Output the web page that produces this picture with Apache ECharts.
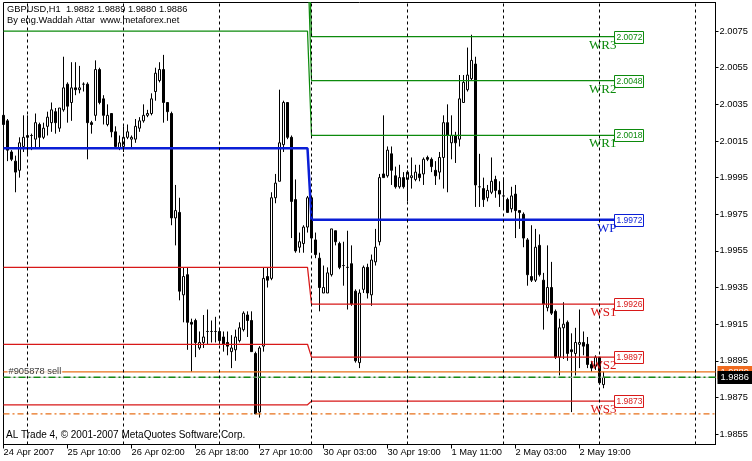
<!DOCTYPE html>
<html>
<head>
<meta charset="utf-8">
<script src="https://cdn.jsdelivr.net/npm/echarts@6/dist/echarts.min.js"></script>
<style>html,body{margin:0;padding:0;background:#fff;}#chart{width:752px;height:461px;}</style>
</head>
<body>
<div id="chart"></div>
<script>
// ---- data ----
const tradingDays   = ['24 Apr','25 Apr','26 Apr','27 Apr','30 Apr','1 May','2 May','3 May','4 May'];
const dayFirstHour  = [18, 0, 0, 0, 0, 0, 0, 0, 0];
const dayLastHour   = [23, 23, 23, 22, 23, 23, 23, 23, 5];
const xTickLabels   = ['24 Apr 2007','25 Apr 10:00','26 Apr 02:00','26 Apr 18:00','27 Apr 10:00','30 Apr 03:00','30 Apr 19:00','1 May 11:00','2 May 03:00','2 May 19:00'];
const yTicks = [1.9855,1.9875,1.9895,1.9915,1.9935,1.9955,1.9975,1.9995,2.0015,2.0035,2.0055,2.0075];
// [open, close, low, high]
const ohlc = [
[2.0029,2.0024,2.0017,2.0030],[2.0026,2.0010,2.0004,2.0027],[2.0009,2.0005,2.0004,2.0010],[2.0004,1.9998,1.9987,2.0007],
[1.9999,2.0014,1.9995,2.0017],[2.0012,2.0017,2.0009,2.0029],[2.0017,2.0018,2.0007,2.0029],[2.0018,2.0018,2.0010,2.0019],
[2.0016,2.0025,2.0011,2.0030],[2.0024,2.0017,2.0011,2.0025],[2.0017,2.0022,2.0016,2.0025],[2.0023,2.0028,2.0018,2.0031],
[2.0025,2.0032,2.0020,2.0036],[2.0031,2.0025,2.0019,2.0033],[2.0022,2.0033,2.0020,2.0033],[2.0032,2.0044,2.0031,2.0061],
[2.0046,2.0034,2.0025,2.0047],[2.0036,2.0044,2.0026,2.0058],[2.0044,2.0043,2.0040,2.0058],[2.0043,2.0044,2.0041,2.0056],
[2.0046,2.0046,2.0042,2.0047],[2.0046,2.0025,2.0005,2.0047],[2.0025,2.0024,2.0019,2.0026],[2.0029,2.0054,2.0026,2.0059],
[2.0054,2.0036,2.0035,2.0055],[2.0038,2.0029,2.0024,2.0040],[2.0024,2.0029,2.0023,2.0035],[2.0030,2.0020,2.0017,2.0030],
[2.0020,2.0012,2.0011,2.0023],[2.0011,2.0014,2.0010,2.0018],[2.0012,2.0017,2.0009,2.0023],[2.0017,2.0020,2.0016,2.0024],
[2.0016,2.0017,2.0011,2.0018],[2.0016,2.0023,2.0014,2.0027],[2.0022,2.0026,2.0020,2.0028],[2.0026,2.0029,2.0025,2.0035],
[2.0029,2.0030,2.0028,2.0032],[2.0030,2.0038,2.0029,2.0041],[2.0042,2.0052,2.0037,2.0055],[2.0048,2.0054,2.0047,2.0058],
[2.0054,2.0036,2.0025,2.0062],[2.0036,2.0031,2.0026,2.0036],[2.0030,1.9973,1.9969,2.0031],[1.9973,1.9977,1.9958,1.9991],
[1.9976,1.9933,1.9928,1.9984],[1.9931,1.9941,1.9916,1.9946],[1.9942,1.9916,1.9901,1.9946],[1.9916,1.9915,1.9889,1.9918],
[1.9917,1.9905,1.9897,1.9918],[1.9902,1.9905,1.9901,1.9911],[1.9905,1.9908,1.9902,1.9920],[1.9911,1.9911,1.9904,1.9923],
[1.9911,1.9911,1.9905,1.9917],[1.9911,1.9911,1.9905,1.9919],[1.9911,1.9906,1.9904,1.9913],[1.9908,1.9904,1.9900,1.9911],
[1.9905,1.9903,1.9898,1.9911],[1.9900,1.9902,1.9891,1.9909],[1.9901,1.9908,1.9895,1.9912],[1.9906,1.9913,1.9905,1.9916],
[1.9912,1.9921,1.9911,1.9922],[1.9920,1.9917,1.9908,1.9922],[1.9917,1.9900,1.9900,1.9922],[1.9899,1.9866,1.9866,1.9900],
[1.9867,1.9902,1.9864,1.9903],[1.9903,1.9940,1.9900,1.9946],[1.9941,1.9939,1.9935,1.9946],[1.9940,1.9984,1.9939,1.9987],
[1.9984,1.9992,1.9981,1.9997],[1.9993,2.0014,1.9993,2.0043],[2.0013,2.0036,2.0009,2.0037],[2.0036,2.0017,2.0016,2.0036],
[2.0017,1.9982,1.9962,2.0018],[1.9983,1.9955,1.9954,1.9994],[1.9957,1.9960,1.9954,1.9965],[1.9959,1.9968,1.9954,1.9969],
[1.9968,1.9984,1.9965,1.9985],[1.9984,1.9962,1.9954,1.9985],[1.9961,1.9953,1.9951,1.9965],[1.9951,1.9935,1.9922,1.9954],
[1.9932,1.9935,1.9932,1.9947],[1.9932,1.9943,1.9932,1.9946],[1.9942,1.9967,1.9941,1.9967],[1.9966,1.9960,1.9958,1.9966],
[1.9959,1.9946,1.9945,1.9960],[1.9947,1.9947,1.9936,1.9960],[1.9946,1.9946,1.9923,1.9966],[1.9948,1.9926,1.9925,1.9958],
[1.9933,1.9895,1.9894,1.9934],[1.9894,1.9932,1.9891,1.9934],[1.9934,1.9946,1.9932,1.9947],[1.9946,1.9932,1.9929,1.9948],
[1.9931,1.9950,1.9925,1.9953],[1.9949,1.9957,1.9947,1.9967],[1.9960,1.9995,1.9958,1.9997],[1.9997,1.9995,1.9995,2.0029],
[1.9996,2.0010,1.9995,2.0012],[2.0008,1.9999,1.9991,2.0012],[1.9996,1.9990,1.9989,2.0001],[1.9990,1.9995,1.9989,2.0002],
[1.9995,1.9990,1.9989,1.9998],[1.9994,1.9998,1.9982,1.9999],[1.9995,1.9996,1.9989,2.0006],[1.9994,1.9998,1.9993,2.0002],
[1.9997,1.9995,1.9993,2.0002],[1.9997,2.0005,1.9991,2.0006],[2.0006,2.0005,2.0004,2.0007],[2.0005,2.0001,1.9998,2.0006],
[1.9999,1.9996,1.9991,2.0004],[1.9998,2.0006,1.9994,2.0009],[2.0006,2.0025,1.9989,2.0029],[2.0025,2.0018,1.9987,2.0035],
[2.0014,2.0018,2.0005,2.0029],[2.0018,2.0014,2.0003,2.0020],[2.0016,2.0038,2.0012,2.0051],[2.0036,2.0047,2.0036,2.0051],
[2.0043,2.0051,2.0042,2.0066],[2.0049,2.0059,2.0048,2.0073],[2.0057,1.9991,1.9979,2.0061],[1.9990,1.9990,1.9979,2.0008],
[1.9989,1.9983,1.9979,1.9995],[1.9984,1.9988,1.9982,1.9991],[1.9987,1.9993,1.9986,2.0006],[1.9994,1.9988,1.9984,1.9996],
[1.9988,1.9986,1.9979,1.9993],[1.9985,1.9985,1.9978,1.9995],[1.9983,1.9976,1.9976,1.9984],[1.9978,1.9985,1.9976,1.9990],
[1.9986,1.9977,1.9962,1.9991],[1.9977,1.9976,1.9967,1.9977],[1.9975,1.9962,1.9957,1.9976],[1.9961,1.9942,1.9936,1.9962],
[1.9941,1.9939,1.9938,1.9969],[1.9939,1.9957,1.9938,1.9967],[1.9958,1.9942,1.9941,1.9964],[1.9939,1.9926,1.9912,1.9943],
[1.9924,1.9935,1.9922,1.9958],[1.9935,1.9921,1.9920,1.9949],[1.9922,1.9897,1.9896,1.9923],[1.9897,1.9913,1.9887,1.9918],
[1.9913,1.9915,1.9896,1.9927],[1.9916,1.9899,1.9895,1.9917],[1.9901,1.9900,1.9867,1.9910],[1.9899,1.9905,1.9887,1.9913],
[1.9904,1.9905,1.9891,1.9923],[1.9905,1.9903,1.9898,1.9911],[1.9904,1.9893,1.9891,1.9908],[1.9893,1.9891,1.9889,1.9895],
[1.9892,1.9897,1.9890,1.9898],[1.9897,1.9883,1.9882,1.9897],[1.9882,1.9886,1.9880,1.9889]
];
const levelNames = ['WR3','WR2','WR1','WP','WS1','WS2','WS3'];
const levelOld   = [2.0140, 2.0118, 2.0075, 2.0011, 1.9946, 1.9904, 1.9871];
const levelNew   = [2.0072, 2.0048, 2.0018, 1.9972, 1.9926, 1.9897, 1.9873];
const levelSwitchIndex = 77;
const levelEndIndex = 153;
const sellPrice = 1.9889;
const bidPrice = 1.9886;
const targetPrice = 1.9866;
const orderLabel = '#905878 sell';

// ---- build ----
const categories = [];
tradingDays.forEach((d, k) => {
  for (let h = dayFirstHour[k]; h <= dayLastHour[k]; h++) {
    categories.push(d + ' ' + (h < 10 ? '0' + h : h) + ':00');
  }
});
const lastIdx = categories.length - 1;
const separators = [];
categories.forEach((c, i) => { if (i > 0 && c.endsWith(' 00:00')) separators.push(i); });

const FONT = '"Liberation Sans", Arial, sans-serif';
const GREEN = '#0c8a0c', BLUE = '#0a1ed6', RED = '#d81818', ORANGE = '#e8701a';
function levelColor(n) { return n === 'WP' ? BLUE : (n.charAt(1) === 'R' ? GREEN : RED); }

const levelSeries = levelNames.map((n, k) => {
  const data = [];
  for (let i = 0; i <= levelEndIndex; i++) data.push([i, i < levelSwitchIndex ? levelOld[k] : levelNew[k]]);
  return {
    type: 'line', data: data, showSymbol: false, silent: true, z: 3,
    lineStyle: { color: levelColor(n), width: n === 'WP' ? 2.5 : 1.25 }
  };
});

function hLine(v, color, width, type, z) {
  return { type: 'line', data: [[0, v], [lastIdx, v]], showSymbol: false, silent: true, z: z,
    lineStyle: { color: color, width: width, type: type } };
}

const tickShown = (idx) => idx % 16 === 0 && idx / 16 < xTickLabels.length;
const last = ohlc[ohlc.length - 1];

const chart = echarts.init(document.getElementById('chart'), null, { renderer: 'canvas' });
chart.setOption({
  animation: false,
  backgroundColor: '#fff',
  grid: { left: 3.5, top: 2.5, width: 712, height: 442, show: true, borderColor: '#000', borderWidth: 1, backgroundColor: '#fff' },
  xAxis: {
    type: 'category', data: categories, boundaryGap: false,
    axisLine: { lineStyle: { color: '#000', width: 1 } },
    axisTick: { interval: (i) => tickShown(i), length: 4, lineStyle: { color: '#000' } },
    axisLabel: { interval: (i) => tickShown(i), formatter: (v, i) => xTickLabels[i / 16], align: 'left', margin: 3,
      fontSize: 9.3, fontFamily: FONT, color: '#000' },
    splitLine: { show: false }
  },
  yAxis: {
    type: 'value', position: 'right', min: 1.98493, max: 2.00906,
    axisLine: { show: true, lineStyle: { color: '#000' } },
    axisTick: { show: true, customValues: yTicks, length: 3, lineStyle: { color: '#000' } },
    axisLabel: { customValues: yTicks, formatter: (v) => v.toFixed(4), margin: 4, fontSize: 9.3, fontFamily: FONT, color: '#000' },
    splitLine: { show: false }
  },
  graphic: [
    { type: 'text', left: 7, top: 5, z: 100, style: { text: 'GBPUSD,H1  ' + last[0].toFixed(4) + ' ' + last[3].toFixed(4) + ' ' + last[2].toFixed(4) + ' ' + last[1].toFixed(4), font: '9.3px ' + FONT, fill: '#000' } },
    { type: 'text', left: 7, top: 15.5, z: 100, style: { text: 'By eng.Waddah Attar  www.metaforex.net', font: '9.3px ' + FONT, fill: '#000' } },
    { type: 'text', left: 6, top: 430, z: 100, style: { text: 'AL Trade 4, \u00a9 2001-2007 MetaQuotes Software Corp.', font: '10px ' + FONT, fill: '#000' } }
  ],
  series: [
    {
      type: 'candlestick', data: ohlc, barWidth: 3, z: 2, clip: true,
      itemStyle: { color: '#fff', color0: '#000', borderColor: '#000', borderColor0: '#000', borderWidth: 1 },
      markLine: {
        silent: true, symbol: 'none', animation: false, label: { show: false },
        lineStyle: { color: '#000', width: 1, type: [3, 3] },
        data: separators.map(i => ({ xAxis: categories[i] }))
      }
    },
    ...levelSeries,
    hLine(sellPrice, ORANGE, 1.25, 'solid', 3),
    hLine(bidPrice, '#c4c4c4', 1, 'solid', 3),
    hLine(bidPrice, '#168a16', 1.5, [7, 3, 2, 3], 3),
    hLine(targetPrice, ORANGE, 1.25, [6, 3, 2, 3], 3),
    {
      type: 'custom', z: 4, silent: true, clip: false,
      data: levelNames.map((n, k) => [levelEndIndex, levelNew[k]]),
      renderItem: function (params, api) {
        const k = params.dataIndex;
        const p = api.coord([api.value(0), api.value(1)]);
        const c = levelColor(levelNames[k]);
        const x0 = Math.round(p[0]) - 1.5, yc = Math.round(p[1]) + 0.5;
        return { type: 'group', children: [
          { type: 'rect', shape: { x: x0, y: yc - 6, width: 29, height: 12 }, style: { fill: '#fff', stroke: c, lineWidth: 1 } },
          { type: 'text', style: { x: x0 + 15, y: yc + 0.5, text: levelNew[k].toFixed(4), fill: c, font: '8.5px ' + FONT, align: 'center', verticalAlign: 'middle' } },
          { type: 'text', style: { x: x0 + 2, y: yc + 1.5, text: levelNames[k], fill: c, font: '13px "Liberation Serif", serif', align: 'right', verticalAlign: 'top' } }
        ] };
      }
    },
    {
      type: 'scatter', z: 5, silent: true, symbolSize: 0,
      data: [[1, sellPrice]],
      label: { show: true, position: 'right', distance: 0, formatter: orderLabel, backgroundColor: '#fff', padding: [0, 1, 0, 1],
        color: '#000', fontSize: 9.3, fontFamily: FONT }
    },
    {
      type: 'custom', z: 6, silent: true, clip: false,
      data: [[lastIdx, sellPrice], [lastIdx, bidPrice]],
      renderItem: function (params, api) {
        const k = params.dataIndex;
        const v = api.value(1);
        const p = api.coord([api.value(0), v]);
        const fill = k === 0 ? '#f06a1e' : '#000';
        const x0 = Math.round(p[0]) + 1.5;
        return { type: 'group', children: [
          { type: 'rect', shape: { x: x0, y: Math.round(p[1]) - 6, width: 40, height: 13 }, style: { fill: fill } },
          { type: 'text', style: { x: x0 + 3, y: Math.round(p[1]) + 0.5, text: v.toFixed(4), fill: '#fff', font: '9.3px ' + FONT, align: 'left', verticalAlign: 'middle' } }
        ] };
      }
    }
  ]
});
</script>
</body>
</html>
